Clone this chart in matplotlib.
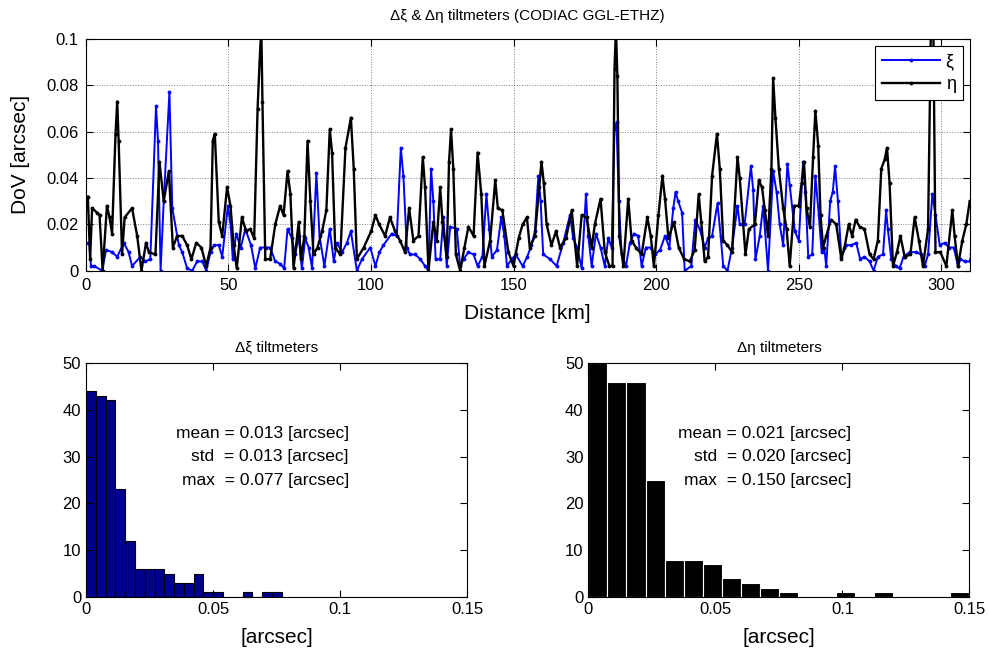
import matplotlib
matplotlib.use("Agg")
from matplotlib import pyplot as plt
import numpy as np

plt.rcParams['font.family'] = ['Liberation Sans', 'DejaVu Sans']

# along-track distance [km] and deflection differences [arcsec]
xi_km = [0.0, 1.3, 1.9, 3.1, 5.8, 7.2, 9.3, 11.1, 13.4, 15.1, 16.3, 19.2, 21.0, 22.7, 24.7, 25.4,
         26.3, 27.4, 29.4, 30.4, 32.7, 33.9, 35.6, 37.4, 39.1, 40.9, 42.3, 43.8, 45.0, 46.7, 47.9,
         49.9, 50.9, 51.6, 52.8, 54.4, 56.0, 58.0, 59.5, 61.2, 63.3, 64.7, 66.5, 68.2, 69.6, 70.8,
         72.3, 73.5, 74.7, 75.8, 77.0, 78.2, 79.4, 80.9, 82.0, 83.7, 85.6, 87.0, 88.1, 89.9, 91.6,
         93.0, 95.1, 96.9, 99.8, 101.6, 103.0, 104.4, 107.3, 109.1, 110.5, 111.4, 112.6, 113.7,
         115.5, 117.3, 119.0, 120.2, 121.1, 121.9, 122.7, 124.3, 125.4, 126.6, 127.8, 130.1, 131.3,
         132.5, 134.2, 136.0, 137.4, 139.1, 140.5, 141.5, 142.4, 144.2, 145.7, 146.8, 147.7, 149.4,
         150.8, 153.2, 154.8, 156.3, 157.5, 158.7, 159.5, 160.4, 162.8, 165.1, 167.4, 169.8, 170.9,
         172.3, 173.9, 175.4, 176.2, 177.4, 178.9, 180.5, 182.0, 183.2, 184.4, 185.4, 186.1, 186.9,
         187.9, 189.4, 190.8, 192.2, 193.7, 194.9, 196.4, 198.1, 199.6, 201.4, 203.1, 204.6, 206.0,
         206.8, 207.7, 209.1, 210.0, 212.3, 213.7, 215.3, 217.0, 218.2, 219.6, 221.5, 222.6, 223.5,
         225.0, 226.6, 228.5, 229.3, 231.0, 233.2, 234.0, 234.8, 236.3, 237.5, 239.2, 241.0, 242.2,
         243.3, 244.5, 246.0, 246.8, 248.6, 250.0, 251.5, 252.3, 253.3, 254.7, 255.8, 257.0, 258.0,
         258.9, 259.6, 261.0, 261.9, 262.7, 263.7, 264.9, 266.6, 268.4, 270.1, 271.5, 273.0, 274.8,
         276.2, 277.7, 279.5, 280.6, 281.2, 282.4, 283.9, 285.3, 286.7, 288.8, 291.2, 292.9, 294.1,
         295.3, 296.8, 297.9, 299.4, 301.1, 302.6, 304.3, 305.8, 306.6, 308.1, 309.9, 310.5]
xi_val = [0.012, 0.012, 0.002, 0.002, 0.000, 0.009, 0.008, 0.006, 0.012, 0.008, 0.002, 0.006, 0.004,
          0.005, 0.071, 0.056, 0.000, 0.030, 0.077, 0.027, 0.011, 0.008, 0.001, 0.000, 0.004, 0.004,
          0.000, 0.008, 0.011, 0.011, 0.006, 0.028, 0.019, 0.005, 0.016, 0.010, 0.018, 0.011, 0.001,
          0.010, 0.010, 0.010, 0.004, 0.003, 0.001, 0.018, 0.014, 0.007, 0.015, 0.001, 0.014, 0.010,
          0.001, 0.042, 0.015, 0.002, 0.018, 0.004, 0.012, 0.008, 0.012, 0.017, 0.000, 0.005, 0.010,
          0.002, 0.008, 0.011, 0.016, 0.015, 0.053, 0.041, 0.010, 0.007, 0.007, 0.005, 0.002, 0.000,
          0.044, 0.030, 0.005, 0.005, 0.023, 0.002, 0.019, 0.018, 0.002, 0.005, 0.008, 0.007, 0.002,
          0.006, 0.033, 0.018, 0.006, 0.009, 0.023, 0.015, 0.002, 0.005, 0.007, 0.002, 0.006, 0.011,
          0.017, 0.041, 0.030, 0.007, 0.005, 0.002, 0.012, 0.024, 0.014, 0.010, 0.001, 0.033, 0.015,
          0.002, 0.016, 0.010, 0.002, 0.014, 0.010, 0.061, 0.064, 0.030, 0.007, 0.002, 0.012, 0.016,
          0.015, 0.002, 0.010, 0.010, 0.007, 0.009, 0.015, 0.010, 0.027, 0.034, 0.030, 0.025, 0.000,
          0.002, 0.022, 0.018, 0.010, 0.014, 0.015, 0.029, 0.015, 0.002, 0.000, 0.010, 0.028, 0.020,
          0.020, 0.045, 0.035, 0.005, 0.015, 0.028, 0.000, 0.043, 0.034, 0.020, 0.011, 0.046, 0.037,
          0.017, 0.013, 0.047, 0.034, 0.006, 0.007, 0.041, 0.024, 0.008, 0.010, 0.002, 0.030, 0.034,
          0.045, 0.030, 0.006, 0.011, 0.011, 0.012, 0.005, 0.006, 0.004, 0.000, 0.006, 0.007, 0.026,
          0.018, 0.005, 0.002, 0.001, 0.006, 0.008, 0.008, 0.007, 0.002, 0.007, 0.033, 0.024, 0.011,
          0.012, 0.010, 0.010, 0.002, 0.005, 0.004, 0.004, 0.007]

eta_km = [0.0, 0.8, 1.6, 2.3, 4.0, 4.9, 6.0, 7.5, 8.4, 9.3, 10.5, 11.1, 11.6, 12.8, 13.7, 16.3, 18.1,
          19.6, 21.2, 22.2, 24.5, 25.9, 27.4, 29.2, 30.6, 32.1, 33.9, 35.6, 37.1, 38.8, 40.6, 42.3,
          43.8, 44.6, 45.3, 46.7, 47.9, 49.6, 50.8, 51.9, 53.0, 54.8, 56.3, 57.7, 59.1, 60.3, 61.0,
          61.6, 62.0, 63.0, 64.7, 66.5, 68.2, 69.4, 70.8, 71.8, 72.9, 74.7, 75.5, 76.7, 77.8, 78.8,
          79.9, 81.3, 82.9, 84.4, 85.6, 86.4, 87.5, 89.3, 91.1, 93.0, 94.0, 95.1, 97.5, 100.1, 101.6,
          102.9, 105.0, 106.7, 108.5, 110.2, 112.0, 113.4, 114.9, 116.7, 118.2, 119.0, 120.2, 121.9,
          123.1, 124.3, 125.1, 126.6, 127.4, 128.1, 128.9, 129.8, 131.3, 132.8, 134.2, 136.0, 137.4,
          138.7, 139.8, 141.8, 143.6, 144.5, 146.1, 148.2, 150.0, 151.8, 153.2, 154.7, 155.7, 157.5,
          159.0, 159.8, 160.6, 161.6, 163.3, 164.9, 166.3, 168.4, 170.4, 172.3, 173.9, 175.6, 177.4,
          178.5, 180.5, 182.0, 183.6, 184.7, 185.4, 185.9, 186.4, 187.1, 188.5, 190.2, 191.4, 192.9,
          194.9, 196.9, 198.1, 199.2, 200.8, 202.2, 203.1, 204.3, 206.2, 207.9, 209.8, 211.8, 213.5,
          214.9, 215.8, 217.0, 218.2, 219.6, 221.3, 222.3, 223.5, 225.0, 226.6, 228.5, 229.3, 231.3,
          232.5, 234.6, 236.0, 237.1, 238.1, 239.2, 240.4, 241.0, 241.8, 243.0, 244.5, 245.7, 246.8,
          248.4, 250.0, 251.0, 251.8, 252.7, 253.9, 255.0, 255.8, 256.8, 257.6, 258.5, 259.6, 261.3,
          263.1, 264.9, 266.0, 267.5, 268.7, 269.9, 271.3, 273.0, 274.8, 276.2, 277.7, 278.9, 280.1,
          280.9, 281.8, 283.0, 284.4, 285.6, 287.1, 289.1, 290.6, 292.1, 293.5, 295.3, 296.8, 297.9,
          299.6, 301.7, 303.8, 304.6, 305.8, 307.3, 308.7, 309.9]
eta_val = [0.027, 0.032, 0.005, 0.027, 0.025, 0.024, 0.000, 0.028, 0.023, 0.016, 0.059, 0.073, 0.056,
           0.007, 0.023, 0.027, 0.015, 0.000, 0.012, 0.008, 0.007, 0.047, 0.030, 0.043, 0.010, 0.015,
           0.015, 0.011, 0.005, 0.012, 0.010, 0.002, 0.010, 0.056, 0.059, 0.021, 0.015, 0.036, 0.028,
           0.011, 0.001, 0.023, 0.017, 0.018, 0.014, 0.070, 0.090, 0.105, 0.073, 0.005, 0.005, 0.020,
           0.028, 0.024, 0.043, 0.033, 0.001, 0.021, 0.005, 0.015, 0.056, 0.030, 0.007, 0.010, 0.017,
           0.026, 0.061, 0.051, 0.010, 0.007, 0.053, 0.066, 0.044, 0.005, 0.010, 0.017, 0.024, 0.020,
           0.015, 0.023, 0.017, 0.013, 0.008, 0.027, 0.013, 0.015, 0.049, 0.036, 0.000, 0.021, 0.013,
           0.036, 0.021, 0.006, 0.047, 0.061, 0.044, 0.007, 0.000, 0.010, 0.019, 0.015, 0.051, 0.033,
           0.002, 0.013, 0.039, 0.027, 0.026, 0.008, 0.002, 0.014, 0.020, 0.023, 0.010, 0.015, 0.036,
           0.047, 0.038, 0.020, 0.011, 0.017, 0.010, 0.014, 0.026, 0.002, 0.024, 0.023, 0.010, 0.020,
           0.031, 0.008, 0.002, 0.002, 0.087, 0.105, 0.084, 0.015, 0.002, 0.031, 0.013, 0.010, 0.007,
           0.023, 0.015, 0.002, 0.024, 0.041, 0.031, 0.014, 0.021, 0.010, 0.005, 0.004, 0.009, 0.033,
           0.021, 0.004, 0.006, 0.041, 0.059, 0.044, 0.013, 0.011, 0.008, 0.049, 0.040, 0.007, 0.018,
           0.020, 0.039, 0.036, 0.026, 0.015, 0.044, 0.083, 0.066, 0.044, 0.027, 0.018, 0.002, 0.028,
           0.028, 0.038, 0.047, 0.027, 0.019, 0.049, 0.069, 0.054, 0.024, 0.010, 0.015, 0.022, 0.020,
           0.005, 0.010, 0.020, 0.015, 0.022, 0.019, 0.018, 0.007, 0.005, 0.013, 0.044, 0.048, 0.053,
           0.038, 0.002, 0.008, 0.015, 0.006, 0.007, 0.023, 0.013, 0.002, 0.018, 0.150, 0.008, 0.008,
           0.002, 0.026, 0.015, 0.002, 0.013, 0.020, 0.030]

# histogram counts (20 bins each, from 0 to the series maximum)
xi_counts = [44, 43, 42, 23, 12, 6, 6, 6, 5, 3, 3, 5, 1, 1, 0, 0, 1, 0, 1, 1]
eta_counts = [50, 46, 46, 25, 8, 8, 7, 4, 3, 2, 1, 0, 0, 1, 0, 1, 0, 0, 0, 1]
xi_max = 0.077
eta_max = 0.150
xi_stats = ['mean = 0.013 [arcsec]', 'std  = 0.013 [arcsec]', 'max  = 0.077 [arcsec]']
eta_stats = ['mean = 0.021 [arcsec]', 'std  = 0.020 [arcsec]', 'max  = 0.150 [arcsec]']

fig = plt.figure(figsize=(9.89, 6.51), dpi=100)

# --- top: profile ---
ax = fig.add_axes([0.0865, 0.5842, 0.8943, 0.3559])
ax.plot(xi_km, xi_val, '.-', color='blue', lw=1.4, ms=3.5, label='ξ')
ax.plot(eta_km, eta_val, '.-', color='black', lw=1.7, ms=3.5, label='η')
ax.set_xlim(0, 310)
ax.set_ylim(0, 0.1)
ax.set_xticks([0, 50, 100, 150, 200, 250, 300])
ax.set_yticks([0, 0.02, 0.04, 0.06, 0.08, 0.1])
ax.set_yticklabels(['0', '0.02', '0.04', '0.06', '0.08', '0.1'])
ax.grid(True, color='k', linestyle=':', lw=0.7, alpha=0.5)
ax.tick_params(direction='in', top=True, right=True, labelsize=12, length=5, pad=5)
ax.set_xlabel('Distance [km]', fontsize=15, labelpad=8)
ax.set_ylabel('DoV [arcsec]', fontsize=15, labelpad=12)
ax.set_title('Δξ & Δη tiltmeters (CODIAC GGL-ETHZ)', fontsize=11, pad=14)
leg = ax.legend(loc='upper right', fontsize=13, handlelength=3.2, fancybox=False,
                framealpha=1, edgecolor='black', borderaxespad=0.4, labelspacing=0.3,
                handletextpad=0.3)
leg.get_frame().set_linewidth(0.8)


def hist_panel(rect, counts, vmax, face, edge, title, stats):
    h = fig.add_axes(rect)
    edges = np.linspace(0, vmax, len(counts) + 1)
    h.bar(edges[:-1], counts, width=np.diff(edges), align='edge',
          color=face, edgecolor=edge, linewidth=0.8)
    h.set_xlim(0, 0.15)
    h.set_ylim(0, 50)
    h.set_xticks([0, 0.05, 0.1, 0.15])
    h.set_xticklabels(['0', '0.05', '0.1', '0.15'])
    h.set_yticks([0, 10, 20, 30, 40, 50])
    h.tick_params(direction='in', top=True, right=True, labelsize=12, length=5)
    h.set_xlabel('[arcsec]', fontsize=15, labelpad=8)
    h.set_title(title, fontsize=11, pad=8)
    for k, s in enumerate(stats):
        h.text(0.1035, 35 - 5 * k, s, ha='right', va='center', fontsize=12.5)
    return h


hist_panel([0.087, 0.0829, 0.3853, 0.3594], xi_counts, xi_max,
           (0, 0, 0.5625), 'black', 'Δξ tiltmeters', xi_stats)
hist_panel([0.5949, 0.0829, 0.3853, 0.3594], eta_counts, eta_max,
           'black', 'white', 'Δη tiltmeters', eta_stats)

fig.savefig('out.png', dpi=100)
